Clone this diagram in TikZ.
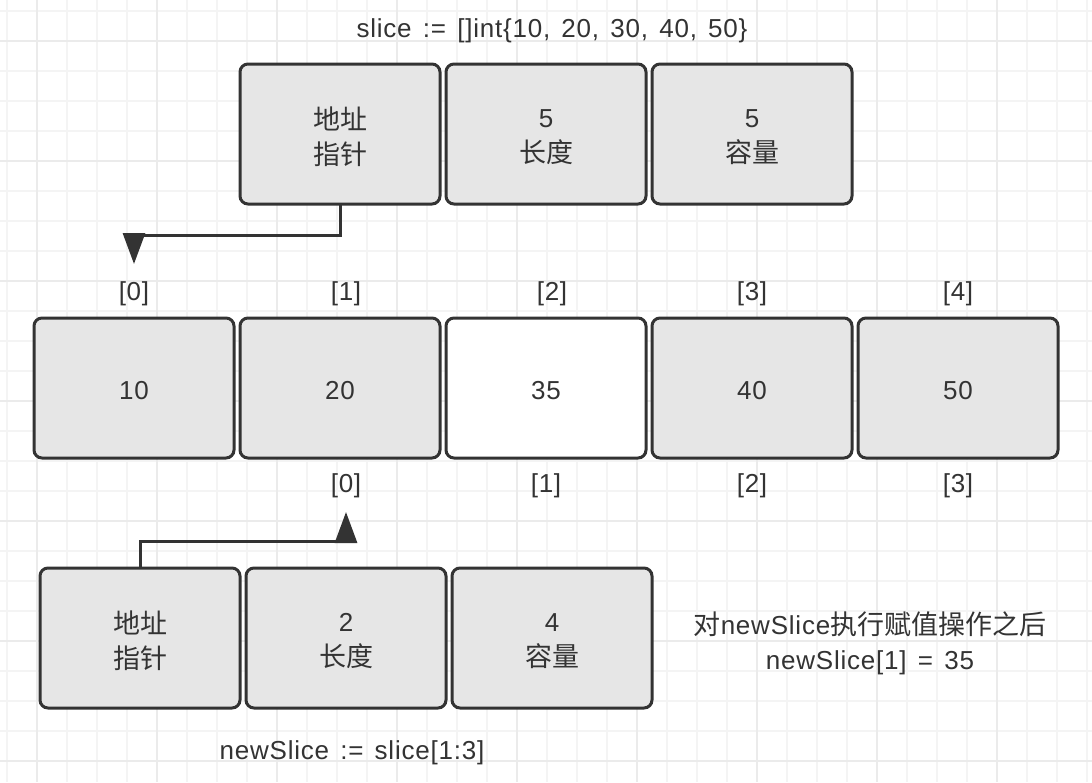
\documentclass[tikz,border=0pt]{standalone}
\usepackage{fontspec}
\setmainfont{Liberation Sans}[LetterSpace=3, WordSpace=1.4]
\newfontfamily\cjkfont{Noto Sans CJK SC}
\newcommand{\zh}[1]{{\cjkfont\fontsize{27}{35}\selectfont #1}}
\usetikzlibrary{arrows.meta}
\definecolor{ink}{HTML}{333333}
\definecolor{boxfill}{HTML}{E6E6E6}
\definecolor{gridminor}{HTML}{F4F4F4}
\definecolor{gridmajor}{HTML}{EBEBEB}
\tikzset{
  lbl/.style={text=ink, font=\fontsize{26}{35}\selectfont, inner sep=0pt, align=center},
  cell/.style={draw=ink, line width=3pt, rounded corners=8pt, fill=boxfill,
    minimum width=200pt, minimum height=140pt, inner sep=0pt, outer sep=0pt,
    label={[lbl, yshift=-3pt]center:#1}},
  whitecell/.style={cell=#1, fill=white},
  link/.style={draw=ink, line width=3pt, -{Triangle[length=31pt,width=22pt]}}
}
\begin{document}
\begin{tikzpicture}[x=1pt,y=-1pt]
\useasboundingbox (0,0) rectangle (1092,782);
\fill[white] (0,0) rectangle (1092,782);
\foreach \i in {0,...,36} {\draw[gridminor, line width=1.2pt] (7+30*\i,0) -- (7+30*\i,782);}
\foreach \i in {0,...,26} {\draw[gridminor, line width=1.2pt] (0,11+30*\i) -- (1092,11+30*\i);}
\foreach \i in {0,...,9} {\draw[gridmajor, line width=1.2pt] (37+120*\i,0) -- (37+120*\i,782);}
\foreach \i in {0,...,6} {\draw[gridmajor, line width=1.2pt] (0,41+120*\i) -- (1092,41+120*\i);}

% top
\node[lbl] (title) at (552,31) {slice := []int\{10, 20, 30, 40, 50\}};
\node[cell={\zh{地址}\\\zh{指针}}] (p1) at (340,134) {};
\node[cell={5\\\zh{长度}}] (l1) at (546,134) {};
\node[cell={5\\\zh{容量}}] (c1) at (752,134) {};

% middle
\node[lbl] (i0) at (134,294) {[0]};
\node[lbl] (i1) at (346,294) {[1]};
\node[lbl] (i2) at (552,294) {[2]};
\node[lbl] (i3) at (752,294) {[3]};
\node[lbl] (i4) at (958,294) {[4]};
\node[cell={10}] (a0) at (134,388) {};
\node[cell={20}] (a1) at (340,388) {};
\node[whitecell={35}] (a2) at (546,388) {};
\node[cell={40}] (a3) at (752,388) {};
\node[cell={50}] (a4) at (958,388) {};
\node[lbl] (j0) at (346,486) {[0]};
\node[lbl] (j1) at (546,486) {[1]};
\node[lbl] (j2) at (752,486) {[2]};
\node[lbl] (j3) at (958,486) {[3]};

% bottom
\node[cell={\zh{地址}\\\zh{指针}}] (p2) at (140,638) {};
\node[cell={2\\\zh{长度}}] (l2) at (346,638) {};
\node[cell={4\\\zh{容量}}] (c2) at (552,638) {};
\node[lbl] (sub) at (352,753) {newSlice := slice[1:3]};
\node[lbl] (note) at (870,643) {\zh{对}newSlice\zh{执行赋值操作之后}\\newSlice[1] = 35};

% connectors
\coordinate (t1) at (134,264);
\coordinate (t2) at (346,512);
\draw[link] (p1.south) |- (134,235) -- (t1);
\draw[link] (p2.north) |- (346,541) -- (t2);
\end{tikzpicture}
\end{document}
